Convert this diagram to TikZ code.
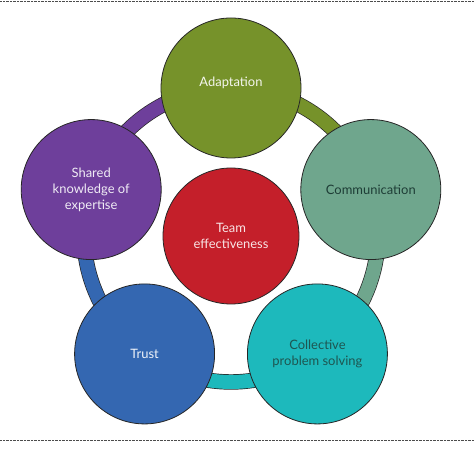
\documentclass[tikz,border=0pt]{standalone}
\usepackage{fontspec}
\setsansfont{Lato}
\usetikzlibrary{calc, backgrounds}
\definecolor{cadapt}{HTML}{76922A}
\definecolor{ccomm}{HTML}{6FA68D}
\definecolor{ccoll}{HTML}{1DB9BC}
\definecolor{ctrust}{HTML}{3467B1}
\definecolor{cshared}{HTML}{6E3F9B}
\definecolor{cteam}{HTML}{C41F2A}
\definecolor{cdark}{HTML}{1E3D36}
\tikzset{
  every picture/.style={font=\sffamily, x=1bp, y=1bp},
  bubble/.style={circle, draw=black!85, line width=0.8bp, fill=#1, minimum size=140bp, inner sep=0pt, align=center, font=\sffamily\fontsize{13}{16}\selectfont},
  band/.style={draw=black!85, line width=0.7bp, double=#1, double distance=14bp},
  dotrule/.style={draw=black!70, line width=1.4bp, dash pattern=on 0.8bp off 0.6bp},
}
\begin{document}
\begin{tikzpicture}
  \useasboundingbox (0,0) rectangle (474,453);
  \coordinate (ctr) at (231,218);
  \draw[dotrule] (0,451.3) -- (474,451.3);
  \draw[dotrule] (0,12.3) -- (474,12.3);
  \node[bubble=cadapt, text=cadapt!8] (adapt) at ($(ctr)+(90:147)$) {\raisebox{1.5bp}[0pt][0pt]{Adaptation}};
  \node[bubble=ccomm, text=cdark] (comm) at ($(ctr)+(18:147)$) {Communication};
  \node[bubble=ccoll, text=cdark!80!ccoll] (coll) at ($(ctr)+(-54:147)$) {Collective\\problem solving};
  \node[bubble=ctrust, text=white!92!ctrust] (trust) at ($(ctr)+(-126:147)$) {Trust};
  \node[bubble=cshared, text=white!90!cshared] (shared) at ($(ctr)+(162:147)$) {Shared\\knowledge of\\expertise};
  \node[bubble=cteam, text=white!88!cteam, minimum size=136bp] (team) at ($(ctr)+(0,-1)$) {Team\\effectiveness};
  \begin{scope}[on background layer]
    \draw[band=cadapt] (adapt.center) arc[start angle=90, end angle=18, radius=147bp];
    \draw[band=ccomm] (comm.center) arc[start angle=18, end angle=-54, radius=147bp];
    \draw[band=ccoll] (coll.center) arc[start angle=-54, end angle=-126, radius=147bp];
    \draw[band=ctrust] (trust.center) arc[start angle=-126, end angle=-198, radius=147bp];
    \draw[band=cshared] (shared.center) arc[start angle=162, end angle=90, radius=147bp];
  \end{scope}
\end{tikzpicture}
\end{document}
